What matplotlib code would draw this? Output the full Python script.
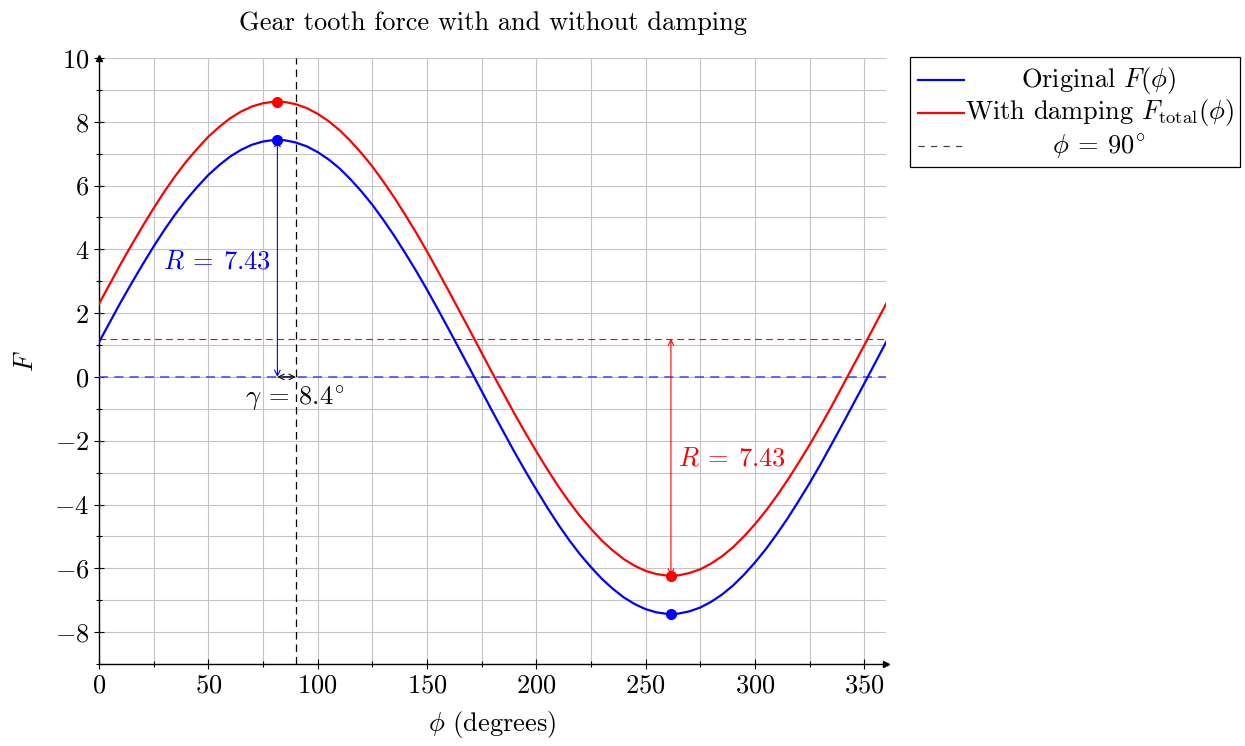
import matplotlib.pyplot as plt
from matplotlib.lines import Line2D
from matplotlib.patches import Rectangle
from matplotlib.ticker import MultipleLocator

plt.rcParams['font.family'] = ['cmr10', 'DejaVu Serif']
plt.rcParams['mathtext.fontset'] = 'cm'
plt.rcParams['axes.formatter.use_mathtext'] = True
plt.rcParams['axes.unicode_minus'] = True

# values every 5 degrees
phi = list(range(0, 365, 5))
f_orig = [1.09, 1.72, 2.35, 2.95, 3.53, 4.09, 4.62, 5.11, 5.56, 5.96, 6.33, 6.64, 6.91,
          7.12, 7.28, 7.38, 7.43, 7.42, 7.35, 7.23, 7.05, 6.82, 6.54, 6.20, 5.82, 5.40,
          4.93, 4.43, 3.89, 3.33, 2.74, 2.12, 1.49, 0.85, 0.21, -0.44, -1.09, -1.72,
          -2.35, -2.95, -3.53, -4.09, -4.62, -5.11, -5.56, -5.96, -6.33, -6.64, -6.91,
          -7.12, -7.28, -7.38, -7.43, -7.42, -7.35, -7.23, -7.05, -6.82, -6.54, -6.20,
          -5.82, -5.40, -4.93, -4.43, -3.89, -3.33, -2.74, -2.12, -1.49, -0.85, -0.21,
          0.44, 1.09]
f_damp = [2.29, 2.92, 3.55, 4.15, 4.73, 5.29, 5.82, 6.31, 6.76, 7.16, 7.53, 7.84, 8.11,
          8.32, 8.48, 8.58, 8.63, 8.62, 8.55, 8.43, 8.25, 8.02, 7.74, 7.40, 7.02, 6.60,
          6.13, 5.63, 5.09, 4.53, 3.94, 3.32, 2.69, 2.05, 1.41, 0.76, 0.11, -0.52, -1.15,
          -1.75, -2.33, -2.89, -3.42, -3.91, -4.36, -4.76, -5.13, -5.44, -5.71, -5.92,
          -6.08, -6.18, -6.23, -6.22, -6.15, -6.03, -5.85, -5.62, -5.34, -5.00, -4.62,
          -4.20, -3.73, -3.23, -2.69, -2.13, -1.54, -0.93, -0.29, 0.35, 0.99, 1.64, 2.29]

# extrema
peak_phi = 81.6
trough_phi = 261.6
peak_orig, trough_orig = 7.43, -7.43
peak_damp, trough_damp = 8.63, -6.23
offset = 1.2
gamma = 8.4
amp = 7.43

fig = plt.figure(figsize=(12.45, 7.46), dpi=100)
ax = fig.add_axes([0.0795, 0.1099, 0.6322, 0.8124])

fs = 19

ax.plot(phi, f_orig, color='blue', lw=1.6, zorder=4)
ax.plot(phi, f_damp, color='red', lw=1.6, zorder=4)
ax.plot([peak_phi, trough_phi], [peak_orig, trough_orig], 'o', color='blue', ms=7, zorder=5)
ax.plot([peak_phi, trough_phi], [peak_damp, trough_damp], 'o', color='red', ms=7, zorder=5)

ax.axhline(0, color='#4040ff', lw=1.1, ls=(0, (6, 4)), zorder=3)
ax.axhline(offset, color='red', lw=0.8, ls=(0, (6, 4)), zorder=3)
ax.axvline(90, color='black', lw=0.9, ls=(0, (6, 4)), zorder=3)

ax.annotate('', xy=(peak_phi, peak_orig), xytext=(peak_phi, 0),
            arrowprops=dict(arrowstyle='<->', color='blue', lw=0.8, shrinkA=0, shrinkB=0))
ax.annotate('', xy=(90, 0), xytext=(peak_phi, 0),
            arrowprops=dict(arrowstyle='<->', color='black', lw=0.8, shrinkA=0, shrinkB=0))
ax.annotate('', xy=(trough_phi, offset), xytext=(trough_phi, trough_damp),
            arrowprops=dict(arrowstyle='<->', color='red', lw=0.8, shrinkA=0, shrinkB=0))

ax.text(54, 3.6, r'$R\:=\:%.2f$' % amp, color='blue', fontsize=fs, ha='center', va='center')
ax.text(289.5, -2.55, r'$R\:=\:%.2f$' % amp, color='red', fontsize=fs, ha='center', va='center')
ax.text(89.5, -0.68, r'$\gamma\:=\:%.1f^{\!\circ}$' % gamma, color='black', fontsize=fs,
        ha='center', va='center')

ax.set_xlim(0, 360)
ax.set_ylim(-9, 10)
ax.xaxis.set_major_locator(MultipleLocator(50))
ax.xaxis.set_minor_locator(MultipleLocator(25))
ax.yaxis.set_major_locator(MultipleLocator(2))
ax.yaxis.set_minor_locator(MultipleLocator(1))
ax.grid(True, which='both', color='#c4c4c4', lw=0.8)
ax.set_axisbelow(True)
ax.tick_params(which='major', direction='inout', length=7, width=0.8, labelsize=fs)
ax.tick_params(which='minor', direction='inout', length=5, width=0.8)

for s in ['top', 'right']:
    ax.spines[s].set_visible(False)
for s in ['left', 'bottom']:
    ax.spines[s].set_linewidth(1.0)
ax.plot(1, 0, '>', color='black', ms=5, transform=ax.transAxes, clip_on=False)
ax.plot(0, 1, '^', color='black', ms=5, transform=ax.transAxes, clip_on=False)

ax.set_xlabel(r'$\phi$ (degrees)', fontsize=fs, labelpad=8)
ax.set_ylabel(r'$F$', fontsize=fs, labelpad=12)
ax.set_title('Gear tooth force with and without damping', fontsize=fs, pad=20)

# legend drawn pgfplots-style, text centred
W, H = 1245, 746
fig.add_artist(Rectangle((910 / W, 1 - 167 / H), 330 / W, 110 / H, transform=fig.transFigure,
                         fill=False, edgecolor='black', lw=0.9))
entries = [('blue', '-', r'Original $F(\phi)$'),
           ('red', '-', r'With damping $F_{\mathrm{total}}(\phi)$'),
           ('#444444', (0, (5, 5)), r'$\phi\:=\:90^{\!\circ}$')]
for i, (c, ls, lab) in enumerate(entries):
    yy = 1 - (80 + i * 33) / H
    fig.add_artist(Line2D([918 / W, 964 / W], [yy, yy], color=c, ls=ls, lw=1.6 if ls == '-' else 0.9,
                          transform=fig.transFigure))
    fig.text(1099 / W, yy, lab, fontsize=fs, ha='center', va='center')

fig.savefig('out.png', dpi=100)
